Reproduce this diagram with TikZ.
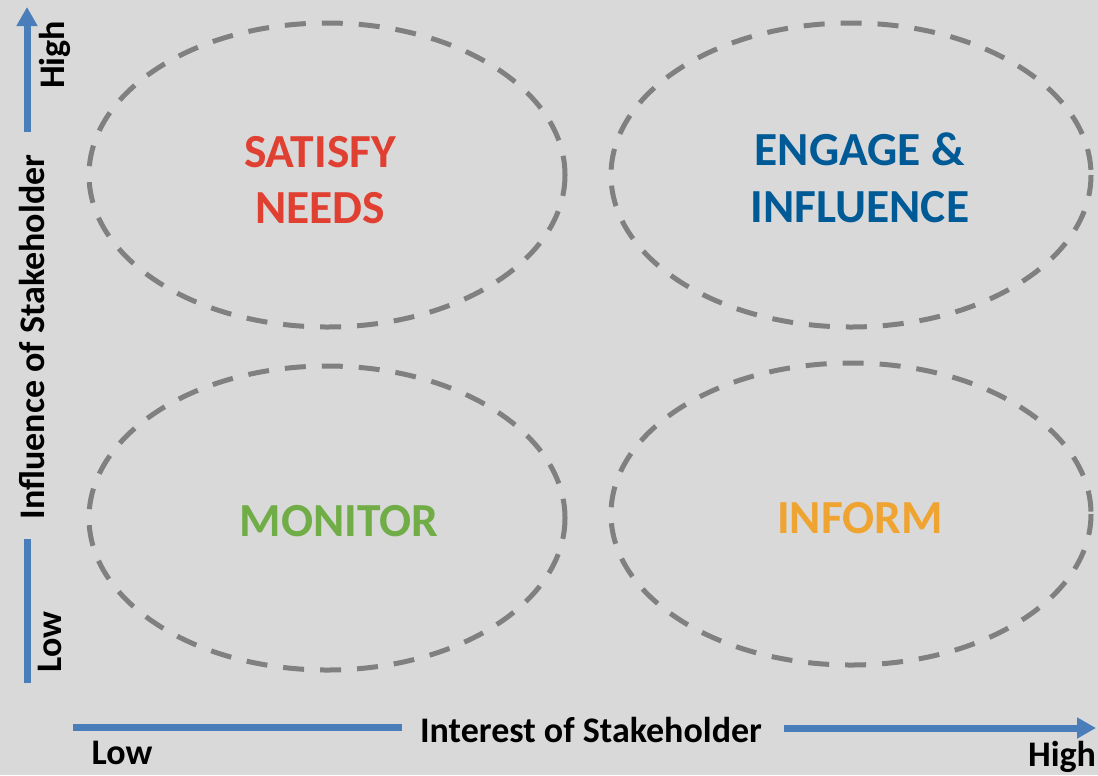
\documentclass[tikz,border=0pt]{standalone}
\usepackage{fontspec}
\setmainfont{Carlito}
\usetikzlibrary{arrows.meta}
\definecolor{bgGray}{RGB}{217,217,217}
\definecolor{dashGray}{RGB}{128,128,128}
\definecolor{axisBlue}{RGB}{74,126,187}
\definecolor{satisfyRed}{RGB}{224,64,50}
\definecolor{engageBlue}{RGB}{0,90,150}
\definecolor{monitorGreen}{RGB}{112,173,71}
\definecolor{informOrange}{RGB}{239,164,49}
\tikzset{
	zone/.style={draw=dashGray, line width=3.75pt, dash pattern=on 15.75pt off 12pt},
	axisline/.style={draw=axisBlue, line width=5.25pt},
	axistip/.style={-{Triangle[length=14.25pt,width=15pt]}},
	bigtext/.style={font=\fontsize{35.6}{42.5}\selectfont\bfseries, align=center},
	axistext/.style={font=\fontsize{27}{30}\selectfont\bfseries}
}

\begin{document}
\begin{tikzpicture}[x=0.75pt, y=-0.75pt]
		%%%%% START %%%%%
		\fill[bgGray] (0, 0) rectangle (1098, 775);
		\useasboundingbox (0, 0) rectangle (1098, 775);
		
		% the four zones
		\draw[zone] (327, 175) ellipse [x radius=238, y radius=152];
		\draw[zone] (851, 175) ellipse [x radius=240, y radius=152];
		\draw[zone] (327, 518) ellipse [x radius=238, y radius=152];
		\draw[zone] (851, 514) ellipse [x radius=240, y radius=151];
		
		\node[bigtext, text=satisfyRed] (satisfy) at (320, 180) {SATISFY\\NEEDS};
		\node[bigtext, text=engageBlue] (engage) at (860, 178) {ENGAGE \&\\INFLUENCE};
		\node[bigtext, text=monitorGreen] (monitor) at (339, 521) {MONITOR};
		\node[bigtext, text=informOrange] (inform) at (860, 518) {INFORM};
		
		% vertical axis
		\coordinate (vlow) at (27, 683);
		\coordinate (vmid) at (27, 539);
		\coordinate (vtop) at (27, 132);
		\coordinate (vtip) at (27, 7);
		\draw[axisline] (vlow) -- (vmid);
		\draw[axisline, axistip] (vtop) -- (vtip);
		\node[axistext, rotate=90] (influence) at (32, 337) {Influence of Stakeholder};
		\node[axistext, rotate=90] (vhigh) at (55, 55) {High};
		\node[axistext, rotate=90] (vlowtext) at (50, 642) {Low};
		
		% horizontal axis
		\coordinate (hleft) at (73, 727);
		\coordinate (hmid) at (402, 727);
		\coordinate (hright) at (784, 728);
		\coordinate (htip) at (1096, 728);
		\draw[axisline] (hleft) -- (hmid);
		\draw[axisline, axistip] (hright) -- (htip);
		\node[axistext] (interest) at (591, 730) {Interest of Stakeholder};
		\node[axistext] (hlowtext) at (122, 753) {Low};
		\node[axistext] (hhigh) at (1062, 757) {High};
		%%%%% END %%%%%
\end{tikzpicture}
\end{document}
